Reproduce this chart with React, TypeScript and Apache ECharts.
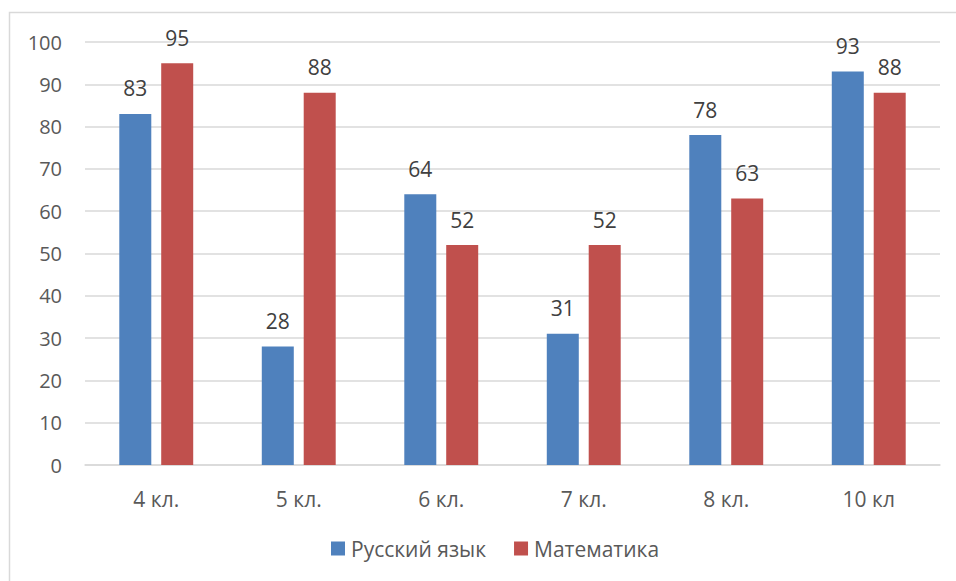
import React, { useEffect, useRef } from "react";
import * as echarts from "echarts";

const categories = ["4 кл.", "5 кл.", "6 кл.", "7 кл.", "8 кл.", "10 кл"];
const russian = [83, 28, 64, 31, 78, 93];
const math = [95, 88, 52, 52, 63, 88];
const seriesNames = ["Русский язык", "Математика"];

export default function App() {
  const ref = useRef<HTMLDivElement>(null);
  useEffect(() => {
    const chart = echarts.init(ref.current!, null, { renderer: "svg" });
    const font = "'Open Sans', 'Noto Sans', sans-serif";
    const labelStyle = { show: true, position: "top", distance: 15, color: "#404040", fontSize: 21, fontFamily: font };
    chart.setOption({
      animation: false,
      backgroundColor: "#ffffff",
      textStyle: { fontFamily: font },
      graphic: [
        {
          type: "rect",
          shape: { x: 9.5, y: 12.5, width: 1000, height: 1000 },
          style: { fill: "none", stroke: "#d9d9d9", lineWidth: 1.5 },
          silent: true,
        },
      ],
      grid: { left: 85, right: 16, top: 42, bottom: 116, containLabel: false },
      legend: {
        data: seriesNames,
        bottom: 17,
        left: 326,
        itemWidth: 14,
        itemHeight: 14,
        itemGap: 28,
        icon: "rect",
        textStyle: { color: "#595959", fontSize: 21, fontFamily: font, padding: [0, 0, 0, 1] },
      },
      xAxis: {
        type: "category",
        data: categories,
        axisLine: { lineStyle: { color: "#d9d9d9", width: 1.5 } },
        axisTick: { show: false },
        axisLabel: { color: "#595959", fontSize: 21, margin: 23, fontFamily: font },
      },
      yAxis: {
        type: "value",
        min: 0,
        max: 100,
        interval: 10,
        axisLine: { show: false },
        axisTick: { show: false },
        splitLine: { lineStyle: { color: "#d9d9d9", width: 1.5 } },
        axisLabel: { color: "#595959", fontSize: 20, margin: 23, fontFamily: font },
      },
      series: [
        {
          name: seriesNames[0],
          type: "bar",
          data: russian,
          barWidth: 32,
          barGap: "31%",
          itemStyle: { color: "#4F81BD" },
          label: labelStyle,
        },
        {
          name: seriesNames[1],
          type: "bar",
          data: math,
          barWidth: 32,
          itemStyle: { color: "#C0504D" },
          label: labelStyle,
        },
      ],
    });
    return () => chart.dispose();
  }, []);
  return (
    <div
      ref={ref}
      style={{ position: "fixed", left: 0, top: 0, width: 956, height: 581 }}
    />
  );
}
